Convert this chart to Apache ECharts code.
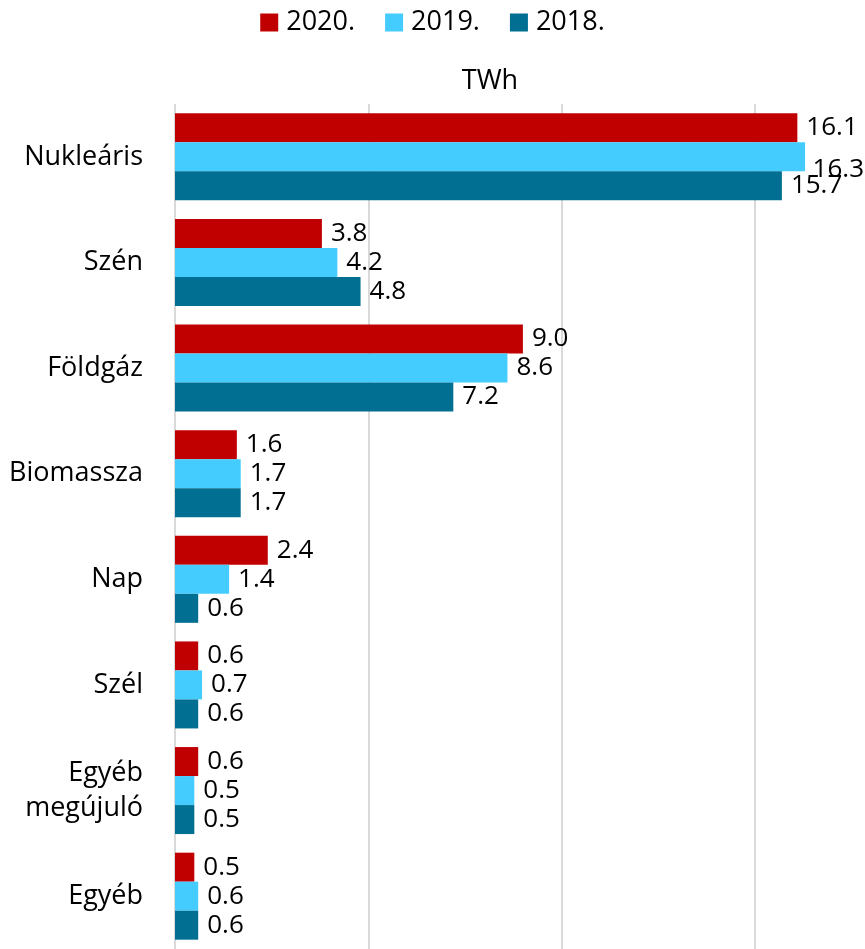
<!DOCTYPE html>
<html>
<head>
<meta charset="utf-8">
<script src="https://cdn.jsdelivr.net/npm/echarts@6/dist/echarts.min.js"></script>
<style>
  html, body { margin: 0; padding: 0; background: #fff; }
  #chart { width: 865px; height: 949px; }
</style>
</head>
<body>
<div id="chart"></div>
<script>
// categories, top to bottom
const categories = ['Nukleáris', 'Szén', 'Földgáz', 'Biomassza', 'Nap', 'Szél', 'Egyéb\nmegújuló', 'Egyéb']
const seriesNames = ['2020.', '2019.', '2018.']
const values2020 = [16.1, 3.8, 9.0, 1.6, 2.4, 0.6, 0.6, 0.5]
const values2019 = [16.3, 4.2, 8.6, 1.7, 1.4, 0.7, 0.5, 0.6]
const values2018 = [15.7, 4.8, 7.2, 1.7, 0.6, 0.6, 0.5, 0.6]
const colors = ['#C00000', '#45CCFF', '#006F91']

const fontFamily = 'Open Sans'
const chart = echarts.init(document.getElementById('chart'))

function makeSeries(name, data, color) {
  return {
    name: name,
    type: 'bar',
    data: data,
    barWidth: 29,
    barGap: '0%',
    itemStyle: { color: color },
    label: {
      show: true,
      position: 'right',
      distance: 9,
      color: '#000',
      fontSize: 26,
      fontFamily: fontFamily,
      formatter: p => p.value.toFixed(1)
    },
    // keep labels inside the canvas like excel does
    labelLayout: function(params) {
      const r = params.labelRect
      if (r.x + r.width > 864) {
        return { x: 864 - r.width }
      }
      return {}
    }
  }
}

chart.setOption({
  animation: false,
  title: {
    text: 'TWh',
    left: 485,
    textAlign: 'center',
    top: 63,
    textStyle: { fontSize: 27, fontWeight: 'normal', color: '#000', fontFamily: fontFamily }
  },
  legend: {
    top: 4,
    left: 'center',
    itemWidth: 18,
    itemHeight: 18,
    itemGap: 30,
    icon: 'rect',
    textStyle: { fontSize: 27, color: '#000', fontFamily: fontFamily, padding: [0, 0, 0, 3] },
    data: seriesNames
  },
  grid: {
    left: 175,
    top: 104,
    right: 0,
    height: 847
  },
  xAxis: {
    type: 'value',
    min: 0,
    max: 17.85,
    interval: 5,
    axisLabel: { show: false },
    axisLine: { show: false },
    axisTick: { show: false },
    splitLine: { show: true, showMaxLine: false, lineStyle: { color: '#D9D9D9', width: 2 } }
  },
  yAxis: {
    type: 'category',
    inverse: true,
    data: categories,
    axisTick: { show: false },
    axisLine: { show: false },
    axisLabel: {
      margin: 32,
      color: '#000',
      fontSize: 27,
      lineHeight: 35,
      fontFamily: fontFamily
    }
  },
  series: [
    makeSeries(seriesNames[0], values2020, colors[0]),
    makeSeries(seriesNames[1], values2019, colors[1]),
    makeSeries(seriesNames[2], values2018, colors[2])
  ]
})
</script>
</body>
</html>
